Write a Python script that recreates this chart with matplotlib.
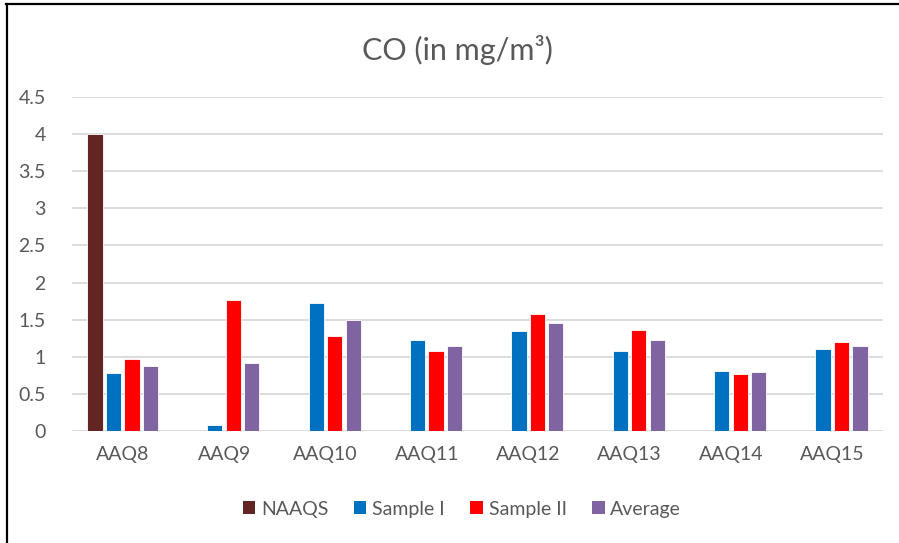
import matplotlib
matplotlib.use("Agg")
import matplotlib.pyplot as plt
import numpy as np
from matplotlib.lines import Line2D
from matplotlib.patches import Patch

categories = ["AAQ8", "AAQ9", "AAQ10", "AAQ11", "AAQ12", "AAQ13", "AAQ14", "AAQ15"]
naaqs = [4.0, 0, 0, 0, 0, 0, 0, 0]
sample1 = [0.78, 0.08, 1.73, 1.22, 1.35, 1.08, 0.81, 1.11]
sample2 = [0.97, 1.76, 1.28, 1.08, 1.57, 1.36, 0.77, 1.20]
average = [0.87, 0.92, 1.50, 1.15, 1.46, 1.22, 0.79, 1.15]
yticks = [0, 0.5, 1, 1.5, 2, 2.5, 3, 3.5, 4, 4.5]
ytick_labels = ["0", "0.5", "1", "1.5", "2", "2.5", "3", "3.5", "4", "4.5"]

series = [("NAAQS", naaqs, "#632523"),
          ("Sample I", sample1, "#0070C0"),
          ("Sample II", sample2, "#FF0000"),
          ("Average", average, "#8064A2")]

plt.rcParams['font.family'] = ['Lato', 'DejaVu Sans']
text_color = "#595959"

fig = plt.figure(figsize=(8.99, 5.43), dpi=100)
ax = fig.add_axes([72/899, 1-431/543, (883-72)/899, (431-97)/543])

x = np.arange(len(categories))
step = 0.182
width = 0.15
for i, (name, vals, col) in enumerate(series):
    offs = (i - 1.5) * step
    ax.bar(x + offs, vals, width=width, color=col, edgecolor="white", linewidth=0.6, zorder=3)

ax.set_xlim(-0.5, len(categories) - 0.5)
ax.set_ylim(0, 4.5)
ax.set_yticks(yticks)
ax.set_yticklabels(ytick_labels)
ax.set_xticks(x)
ax.set_xticklabels(categories)
ax.tick_params(axis='both', length=0, labelsize=14, colors=text_color)
ax.tick_params(axis='y', pad=19)
ax.tick_params(axis='x', pad=11)
ax.grid(axis='y', color="#D9D9D9", linewidth=1.3, zorder=0)
for s in ax.spines.values():
    s.set_visible(False)

fig.text(457/899, 1-50/543, "CO (in mg/m³)", ha="center", va="center", fontsize=22, color=text_color)

handles = [Patch(facecolor=c, edgecolor="none") for _, _, c in series]
fig.legend(handles, [n for n, _, _ in series], loc="center", bbox_to_anchor=(462/899, 1-509/543),
           ncol=4, frameon=False, fontsize=14, labelcolor=text_color, handlelength=0.65,
           handleheight=0.65, handletextpad=0.3, columnspacing=1.3)

fig.add_artist(Line2D([6.5/899, 6.5/899], [0, 1-4/543], color="black", linewidth=1.6, transform=fig.transFigure))
fig.add_artist(Line2D([6/899, 1], [1-4/543, 1-4/543], color="black", linewidth=1.6, transform=fig.transFigure))

fig.savefig("out.png", dpi=100, facecolor="white")
